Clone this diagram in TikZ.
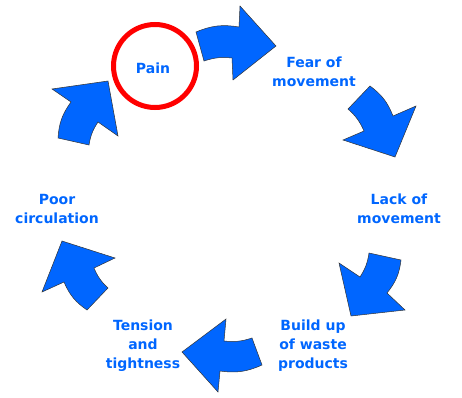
\documentclass[tikz,border=0pt]{standalone}
\usepackage{fontspec}
\setmainfont{DejaVu Sans}
\definecolor{cycleblue}{HTML}{0066FF}
\definecolor{painred}{HTML}{FF0000}
\begin{document}
\begin{tikzpicture}[x=1pt,y=1pt,
  label/.style={font=\bfseries\fontsize{14}{19}\selectfont, text=cycleblue, align=center, inner sep=0pt},
  cyclearrow/.style={fill=cycleblue, draw=black!80, line width=0.5pt, line join=miter},
  outerarc/.style={bend left=#1},
  innerarc/.style={bend right=#1}]
\useasboundingbox (0,0) rectangle (462,397);

% stages of the cycle
\node[draw=painred, line width=5pt, circle, minimum size=83pt] (painring) at (155,331) {};
\node[label] (pain) at (153,329) {Pain};
\node[label] (fear) at (314,325) {Fear of\\movement};
\node[label] (lack) at (399,188) {Lack of\\movement};
\node[label] (waste) at (313,51) {Build up\\of waste\\products};
\node[label] (tension) at (143,51) {Tension\\and\\tightness};
\node[label] (poor) at (57,188) {Poor\\circulation};

% curved block arrows between the stages
\draw[cyclearrow] (196,365) to[outerarc=16] (239,370) -- (240,391) -- (276,351)
  -- (233,317) -- (232,339) to[innerarc=12] (204,336) -- cycle;
\draw[cyclearrow] (370,311) to[outerarc=16] (393,281) -- (416,291) -- (395,240)
  -- (343,257) -- (364,266) to[innerarc=12] (348,288) -- cycle;
\draw[cyclearrow] (401,137) to[outerarc=16] (387,104) -- (405,87) -- (351,81)
  -- (339,134) -- (360,120) to[innerarc=12] (369,144) -- cycle;
\draw[cyclearrow] (262,32) to[outerarc=16] (220,26) -- (218,5) -- (182,45)
  -- (226,78) -- (224,56) to[innerarc=12] (252,59) -- cycle;
\draw[cyclearrow] (87,87) to[outerarc=16] (64,115) -- (42,105) -- (62,156)
  -- (115,139) -- (94,129) to[innerarc=12] (108,109) -- cycle;
\draw[cyclearrow] (58,259) to[outerarc=16] (71,295) -- (52,308) -- (108,316)
  -- (118,261) -- (98,275) to[innerarc=12] (89,252) -- cycle;
\end{tikzpicture}
\end{document}
